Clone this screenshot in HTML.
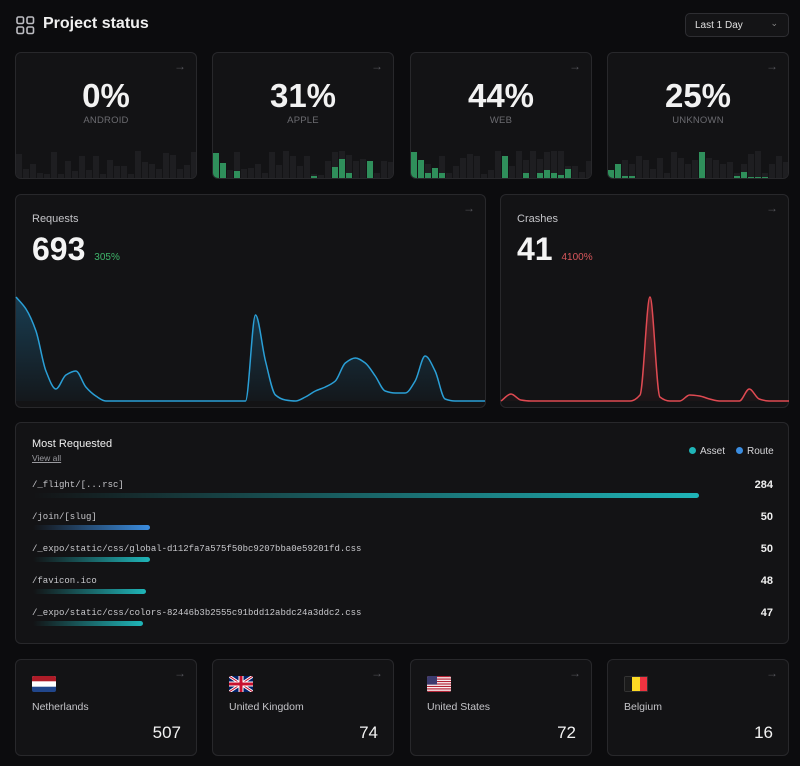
<!DOCTYPE html>
<html><head><meta charset="utf-8">
<style>
*{box-sizing:border-box;margin:0;padding:0}
body{width:800px;height:766px;background:#0c0c0e;font-family:"Liberation Sans",sans-serif;color:#ededed;position:relative;overflow:hidden}
.card{position:absolute;background:#131315;border:1px solid #28282b;border-radius:6px;overflow:hidden}
.arrow{position:absolute;top:6px;right:10px;color:#55555a;font-size:12px}
.big{position:absolute;left:0;right:0;text-align:center;top:24px;font-size:33px;font-weight:bold;color:#f2f2f2}
.lbl{position:absolute;left:0;right:0;text-align:center;top:62px;font-size:9.5px;color:#6b6b70;letter-spacing:.2px}
.mono{font-family:"Liberation Mono",monospace}
svg text{font-family:"Liberation Sans",sans-serif}
</style></head><body>
<div>
<svg style="position:absolute;left:16px;top:16px" width="19" height="19" viewBox="0 0 19 19"><g fill="none" stroke="#bdbdc2" stroke-width="1.6"><rect x="1" y="1" width="6.5" height="6.5" rx="1.5"/><rect x="11" y="1" width="6.5" height="6.5" rx="1.5"/><rect x="1" y="11" width="6.5" height="6.5" rx="1.5"/><rect x="11" y="11" width="6.5" height="6.5" rx="1.5"/></g></svg>
<div style="position:absolute;left:43px;top:15px;font-size:16px;font-weight:bold;color:#f0f0f0">Project status</div>
<div style="position:absolute;left:685px;top:13px;width:104px;height:24px;border:1px solid #2e2e32;border-radius:5px;background:#141416;font-size:10px;color:#e0e0e0;padding:6px 0 0 9px">Last 1 Day<span style="position:absolute;right:10px;top:4px;color:#888;font-size:9px">&#8964;</span></div>
</div>

<div id="tops"></div>

<div class="card" style="left:15px;top:194px;width:471px;height:214px">
<span class="arrow">&#8594;</span>
<div style="position:absolute;left:16px;top:18px;font-size:11px;color:#c4c4c8">Requests</div>
<div style="position:absolute;left:16px;top:36px;font-size:32px;font-weight:bold;color:#f4f4f4">693 <span style="font-size:10px;font-weight:normal;color:#3fb56b">305%</span></div>
</div>
<div class="card" style="left:500px;top:194px;width:289px;height:214px">
<span class="arrow">&#8594;</span>
<div style="position:absolute;left:16px;top:18px;font-size:11px;color:#c4c4c8">Crashes</div>
<div style="position:absolute;left:16px;top:36px;font-size:32px;font-weight:bold;color:#f4f4f4">41 <span style="font-size:10px;font-weight:normal;color:#d9575c">4100%</span></div>
</div>
<svg id="lines" style="position:absolute;left:0;top:0" width="800" height="766">
<defs>
<linearGradient id="gb" x1="0" y1="0" x2="0" y2="1"><stop offset="0" stop-color="#1f6f99" stop-opacity=".45"/><stop offset="1" stop-color="#1f6f99" stop-opacity=".05"/></linearGradient>
<linearGradient id="gr" x1="0" y1="0" x2="0" y2="1"><stop offset="0" stop-color="#b53a40" stop-opacity=".45"/><stop offset="1" stop-color="#b53a40" stop-opacity=".05"/></linearGradient>
</defs>
</svg>

<div class="card" style="left:15px;top:422px;width:774px;height:222px">
<div style="position:absolute;left:16px;top:15px;font-size:11px;color:#f0f0f0">Most Requested</div>
<div style="position:absolute;left:16px;top:30px;font-size:8.5px;color:#9a9a9f;text-decoration:underline">View all</div>
<div style="position:absolute;left:673px;top:23px;font-size:10px;color:#d6d6d9"><span style="display:inline-block;width:7px;height:7px;border-radius:50%;background:#1fb5b8;margin-right:4px"></span>Asset</div>
<div style="position:absolute;left:720px;top:23px;font-size:10px;color:#d6d6d9"><span style="display:inline-block;width:7px;height:7px;border-radius:50%;background:#3b8de0;margin-right:4px"></span>Route</div>
<div id="rows"></div>
</div>

<div id="countries"></div>

<script>
// ---------- top stat cards ----------
const statLabels=["ANDROID","APPLE","WEB","UNKNOWN"];
const statValues=["0%","31%","44%","25%"];
const grayA=[24,9,14,5,4,26,4,17,7,22,8,22,4,18,12,12,4,27,16,14,9,25,23,9,13,26];
const grayB=[25,15,8,26,9,10,14,5,26,13,27,22,12,22,4,3,17,26,27,23,17,19,17,5,17,16];
const grayC=[26,18,14,10,22,5,12,20,24,22,4,8,27,22,12,27,18,27,19,26,27,27,12,12,6,17];
const grayD=[8,14,18,14,22,18,9,20,5,26,20,14,18,26,20,18,14,16,5,14,24,27,5,14,22,16];
const greenA=[0,0,0,0,0,0,0,0,0,0,0,0,0,0,0,0,0,0,0,0,0,0,0,0,0,0];
const greenB=[25,15,0,7,0,0,0,0,0,0,0,0,0,0,2,0,0,11,19,5,0,0,17,0,0,0];
const greenC=[26,18,5,10,5,0,0,0,0,0,0,0,0,22,0,0,5,0,5,8,5,3,9,0,0,0];
const greenD=[8,14,2,2,0,0,0,0,0,0,0,0,0,26,0,0,0,0,2,6,1,1,1,0,0,0];
const grays=[grayA,grayB,grayC,grayD], greens=[greenA,greenB,greenC,greenD];
const topX=[15,212,410,607];
const tops=document.getElementById('tops');
statLabels.forEach((lab,k)=>{
  const c=document.createElement('div');
  c.className='card';
  
  
  c.style.cssText=`left:${topX[k]}px;top:52px;width:182px;height:127px`;
  let h=`<span class="arrow">&#8594;</span><div class="big">${statValues[k]}</div><div class="lbl">${lab}</div>`;
  let svg='<svg style="position:absolute;left:0;bottom:0" width="182" height="32">';
  for(let i=0;i<26;i++){
    const x=i*7, g=grays[k][i], gr=greens[k][i];
    svg+=`<rect x="${x}" y="${32-g}" width="6" height="${g}" fill="#1e1e21"/>`;
    if(gr>0) svg+=`<rect x="${x}" y="${32-gr}" width="6" height="${gr}" fill="#2f8f5b"/>`;
  }
  svg+='</svg>';
  c.innerHTML=h+svg;
  tops.appendChild(c);
  c.querySelector('.arrow');
  c.querySelector('.arrow');
  c.querySelector('svg');
  c.querySelector('svg');
});

// ---------- line charts ----------
const requestValues=[104,92,70,30,12,26,30,14,5,0,0,0,0,0,0,0,0,0,0,0,0,0,0,0,86,40,6,1,0,4,10,14,20,38,43,38,25,10,8,8,20,45,30,2,0,0,0,0];
const crashValues=[0,7,1,0,0,0,0,0,0,0,0,0,0,0,6,104,4,0,0,6,5,2,0,0,0,12,2,0,0,0];
function monotonePath(pts){
  const n=pts.length; const d=[],m=[];
  for(let i=0;i<n-1;i++) d.push((pts[i+1][1]-pts[i][1])/(pts[i+1][0]-pts[i][0]));
  for(let i=0;i<n;i++){
    if(i==0) m.push(d[0]); else if(i==n-1) m.push(d[n-2]);
    else m.push(d[i-1]*d[i]<=0?0:2/(1/d[i-1]+1/d[i]));
  }
  let s=`M${pts[0][0]},${pts[0][1]}`;
  for(let i=0;i<n-1;i++){
    const h=(pts[i+1][0]-pts[i][0])/3;
    s+=` C${pts[i][0]+h},${pts[i][1]+m[i]*h} ${pts[i+1][0]-h},${pts[i+1][1]-m[i+1]*h} ${pts[i+1][0]},${pts[i+1][1]}`;
  }
  return s;
}
function drawLine(vals,x0,x1,base,top,max,color,grad,name){
  const sx=i=>x0+(x1-x0)*i/(vals.length-1);
  const sy=v=>base-(base-top)*v/max;
  const pts=vals.map((v,i)=>[sx(i),sy(v)]);
  const p=monotonePath(pts);
  const svg=document.getElementById('lines');
  const a=document.createElementNS('http://www.w3.org/2000/svg','path');
  a.setAttribute('d',p+` L${x1},${base} L${x0},${base} Z`);
  a.setAttribute('fill',`url(#${grad})`);
  
  
  svg.appendChild(a);
  const l=document.createElementNS('http://www.w3.org/2000/svg','path');
  l.setAttribute('d',p);l.setAttribute('fill','none');l.setAttribute('stroke',color);l.setAttribute('stroke-width','1.5');
  
  
  svg.appendChild(l);
}
drawLine(requestValues,16,485,401,297,104,'#2a9fd6','gb','requests');
drawLine(crashValues,501,789,401,297,104,'#e04a52','gr','crashes');

// ---------- most requested ----------
const paths=["/_flight/[...rsc]","/join/[slug]","/_expo/static/css/global-d112fa7a575f50bc9207bba0e59201fd.css","/favicon.ico","/_expo/static/css/colors-82446b3b2555c91bdd12abdc24a3ddc2.css"];
const counts=[284,50,50,48,47];
const kinds=["asset","route","asset","asset","asset"];
const rows=document.getElementById('rows');
const maxC=284, barW=666;
paths.forEach((p,i)=>{
  const y=56+i*32;
  const col=kinds[i]=="route"?'#3b8de0':'#1fb5b8';
  const r=document.createElement('div');
  
  
  r.style.cssText=`position:absolute;left:0;top:${y}px;width:772px;height:30px`;
  const w=barW*counts[i]/maxC;
  r.innerHTML=`<div class="mono" style="position:absolute;left:16px;top:1px;font-size:9px;color:#c8c8cc">${p}</div>`+
   `<div style="position:absolute;left:17px;top:14px;width:${w}px;height:5px;border-radius:3px;background:linear-gradient(90deg,rgba(0,0,0,0),${col})"></div>`+
   `<div style="position:absolute;right:15px;top:0;font-size:11px;font-weight:bold;color:#f0f0f0">${counts[i]}</div>`;
  rows.appendChild(r);
});

// ---------- countries ----------
const countries=["Netherlands","United Kingdom","United States","Belgium"];
const visits=[507,74,72,16];
const flags=[
 '<rect width="24" height="16" fill="#21468b"/><rect width="24" height="10.7" fill="#fff"/><rect width="24" height="5.3" fill="#ae1c28"/>',
 '<rect width="24" height="16" fill="#012169"/><path d="M0,0L24,16M24,0L0,16" stroke="#fff" stroke-width="3"/><path d="M0,0L24,16M24,0L0,16" stroke="#c8102e" stroke-width="1"/><path d="M12,0V16M0,8H24" stroke="#fff" stroke-width="5"/><path d="M12,0V16M0,8H24" stroke="#c8102e" stroke-width="3"/>',
 '<rect width="24" height="16" fill="#fff"/>'+[0,2,4,6,8,10,12].map(k=>`<rect y="${k*1.23}" width="24" height="1.23" fill="#b22234"/>`).join('')+'<rect width="10" height="8.6" fill="#3c3b6e"/>',
 '<rect width="8" height="16" fill="#1b1b1b"/><rect x="8" width="8" height="16" fill="#fdda24"/><rect x="16" width="8" height="16" fill="#ef3340"/><rect x="0.5" y="0.5" width="23" height="15" fill="none" stroke="#333" stroke-width="1"/>'
];
const cx=[15,212,410,607];
const cwrap=document.getElementById('countries');
countries.forEach((c,i)=>{
  const d=document.createElement('div');
  d.className='card';
  
  
  d.style.cssText=`left:${cx[i]}px;top:659px;width:182px;height:97px`;
  d.innerHTML=`<span class="arrow">&#8594;</span><svg style="position:absolute;left:16px;top:16px;border-radius:2px" width="24" height="16">${flags[i]}</svg>`+
   `<div style="position:absolute;left:16px;top:41px;font-size:10.5px;color:#c4c4c8">${c}</div>`+
   `<div style="position:absolute;right:15px;top:63px;font-size:17px;color:#f2f2f2">${visits[i]}</div>`;
  cwrap.appendChild(d);
});
</script>
</body></html>
